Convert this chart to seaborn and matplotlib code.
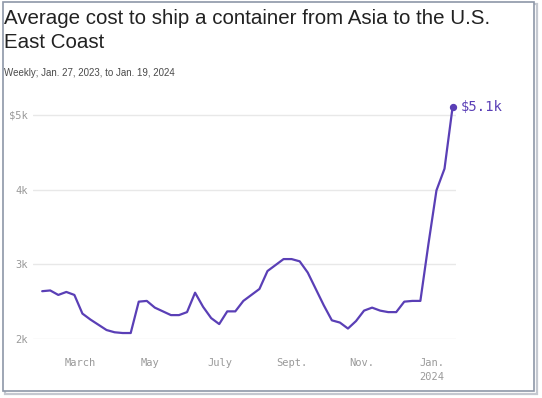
import pandas as pd
import numpy as np
import seaborn as sns
import matplotlib
matplotlib.use("Agg")
from matplotlib import pyplot as plt
from matplotlib.patches import Rectangle

# weekly cost, $ per container
start_date = "2023-01-27"
cost = [2640, 2650, 2590, 2630, 2590, 2340, 2260, 2190, 2120, 2090,
        2080, 2080, 2500, 2510, 2420, 2370, 2320, 2320, 2360, 2620,
        2430, 2280, 2200, 2370, 2370, 2510, 2590, 2670, 2910, 2990,
        3070, 3070, 3040, 2890, 2670, 2450, 2250, 2220, 2140, 2240,
        2380, 2420, 2380, 2360, 2360, 2500, 2510, 2510, 3270, 3990,
        4280, 5100]
month_ticks = ["2023-03-01", "2023-05-01", "2023-07-01", "2023-09-01", "2023-11-01", "2024-01-01"]
month_labels = ["March", "May", "July", "Sept.", "Nov.", "Jan.\n2024"]
y_ticks = [2000, 3000, 4000, 5000]
y_labels = ["2k", "3k", "4k", "$5k"]
end_label = "$5.1k"

df = pd.DataFrame({"week": pd.date_range(start_date, periods=len(cost), freq="7D"), "cost": cost})

purple = "#5a3fb6"
mono = ["DejaVu Sans Mono"]

sns.set_theme(style="white")
fig = plt.figure(figsize=(5.42, 3.98), dpi=100)
W, H = 542, 398

# screenshot frame with a bit of shadow
fig.patches.append(Rectangle((4.5 / W, (H - 393.5) / H), 532 / W, 390 / H, transform=fig.transFigure,
                             facecolor="none", edgecolor="#c4c8d0", lw=1.6, zorder=0))
fig.patches.append(Rectangle((2.7 / W, (H - 390.5) / H), 531.5 / W, 388.5 / H, transform=fig.transFigure,
                             facecolor="white", edgecolor="#8e97a8", lw=1.2, zorder=1))

ax = fig.add_axes([33 / W, (H - 339) / H, 423 / W, 239 / H])
ax.set_zorder(2)
ax.patch.set_alpha(0)

sns.lineplot(data=df, x="week", y="cost", ax=ax, color=purple, lw=1.6, zorder=3)
last = df.iloc[-1]
ax.scatter([last.week], [last.cost], s=18, color=purple, zorder=4, clip_on=False)
ax.annotate(end_label, (last.week, last.cost), xytext=(6, 0), textcoords="offset points",
            va="center", ha="left", color=purple, fontsize=10, family=mono, annotation_clip=False)

ax.set_xlim(pd.Timestamp("2023-01-19"), pd.Timestamp("2024-01-22"))
ax.set_ylim(2000, 5200)
ax.set_yticks(y_ticks)
ax.set_yticklabels(y_labels, family=mono, fontsize=7.5, color="#999999")
ax.set_xticks(pd.to_datetime(month_ticks))
ax.set_xticklabels(month_labels, family=mono, fontsize=7.5, color="#999999", linespacing=1.5)
ax.tick_params(axis="y", length=0, pad=4)
ax.tick_params(axis="x", length=11.5, width=0.9, color="#e2e2e2", direction="out", pad=2)
ax.grid(axis="y", color="#e8e8e8", lw=1)
for s in ax.spines.values():
    s.set_visible(False)
ax.set_xlabel("")
ax.set_ylabel("")

fig.text(4 / W, 1 - 9 / H, "Average cost to ship a container from Asia to the U.S.\nEast Coast",
         ha="left", va="top", fontsize=14.8, family=["Liberation Sans"], color="#222222",
         linespacing=1.3, zorder=5)
fig.text(4 / W, 1 - 73.5 / H, "Weekly; Jan. 27, 2023, to Jan. 19, 2024", ha="left", va="center",
         fontsize=7, family=["Liberation Sans"], color="#4a4a4a", zorder=5)

fig.savefig("out.png", dpi=100)
